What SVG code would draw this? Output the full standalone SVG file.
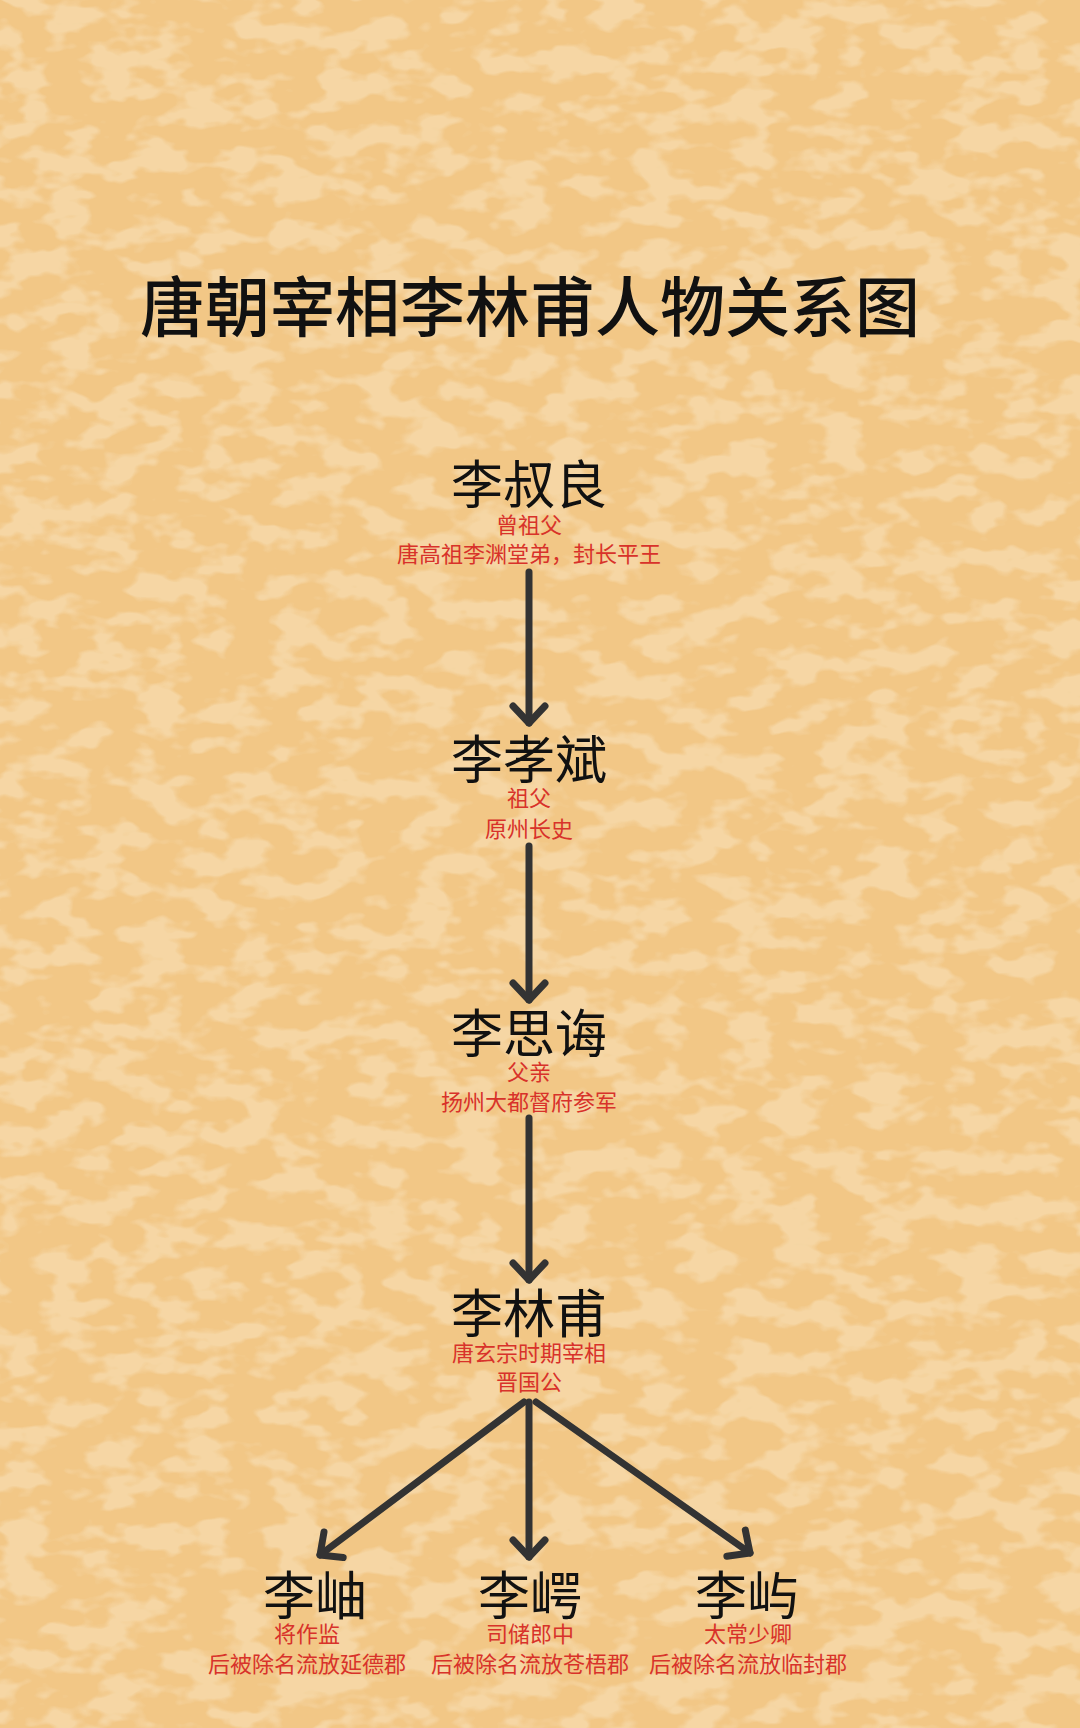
<svg xmlns="http://www.w3.org/2000/svg" width="1080" height="1728" viewBox="0 0 1080 1728">
<defs>
<style>
.title{font-family:"Noto Sans CJK SC","Noto Sans",sans-serif;font-size:65px;font-weight:500;fill:#111;text-anchor:middle}
.name{font-family:"Noto Sans CJK SC","Noto Sans",sans-serif;font-size:52px;fill:#111;text-anchor:middle}
.note{font-family:"Noto Sans CJK SC","Noto Sans",sans-serif;font-size:22px;fill:#D8322A;text-anchor:middle}
.edge{stroke:#333;stroke-width:7;stroke-linecap:round;fill:none;marker-end:url(#arr)}
</style>
<marker id="arr" markerUnits="userSpaceOnUse" markerWidth="40" markerHeight="40" refX="0" refY="0" orient="auto" overflow="visible">
<path d="M-17,-16 L0,0 L-17,16" fill="none" stroke="#333" stroke-width="7" stroke-linecap="round" stroke-linejoin="round"/>
</marker>
<filter id="paper" x="0" y="0" width="100%" height="100%">
<feTurbulence type="fractalNoise" baseFrequency="0.022 0.04" numOctaves="3" seed="7" result="n"/>
<feColorMatrix in="n" type="matrix" values="0 0 0 0 0.97  0 0 0 0 0.85  0 0 0 0 0.65  0 0 0 7 -3.3"/>
</filter>
</defs>
<rect width="1080" height="1728" fill="#F2C786"/>
<rect width="1080" height="1728" filter="url(#paper)" opacity="0.4"/>
<text class="title" x="530" y="331">唐朝宰相李林甫人物关系图</text>
<g id="connectors">
<line class="edge" x1="529" y1="572" x2="529" y2="723"/>
<line class="edge" x1="529" y1="846" x2="529" y2="1000"/>
<line class="edge" x1="529" y1="1118" x2="529" y2="1280"/>
<line class="edge" x1="529" y1="1402" x2="529" y2="1557"/>
<line class="edge" x1="524" y1="1402" x2="320" y2="1555"/>
<line class="edge" x1="536" y1="1402" x2="750" y2="1553"/>
</g>
<g id="n1">
<text class="name" x="529" y="504">李叔良</text>
<text class="note" x="529" y="533">曾祖父</text>
<text class="note" x="529" y="562">唐高祖李渊堂弟，封长平王</text>
</g>
<g id="n2">
<text class="name" x="529" y="779">李孝斌</text>
<text class="note" x="529" y="806">祖父</text>
<text class="note" x="529" y="837">原州长史</text>
</g>
<g id="n3">
<text class="name" x="529" y="1053">李思诲</text>
<text class="note" x="529" y="1080">父亲</text>
<text class="note" x="529" y="1110">扬州大都督府参军</text>
</g>
<g id="n4">
<text class="name" x="529" y="1333">李林甫</text>
<text class="note" x="529" y="1361">唐玄宗时期宰相</text>
<text class="note" x="529" y="1390">晋国公</text>
</g>
<g id="c1">
<text class="name" x="315" y="1615">李岫</text>
<text class="note" x="307" y="1642">将作监</text>
<text class="note" x="307" y="1672">后被除名流放延德郡</text>
</g>
<g id="c2">
<text class="name" x="530" y="1615">李崿</text>
<text class="note" x="530" y="1642">司储郎中</text>
<text class="note" x="530" y="1672">后被除名流放苍梧郡</text>
</g>
<g id="c3">
<text class="name" x="747" y="1615">李屿</text>
<text class="note" x="748" y="1642">太常少卿</text>
<text class="note" x="748" y="1672">后被除名流放临封郡</text>
</g>
</svg>
